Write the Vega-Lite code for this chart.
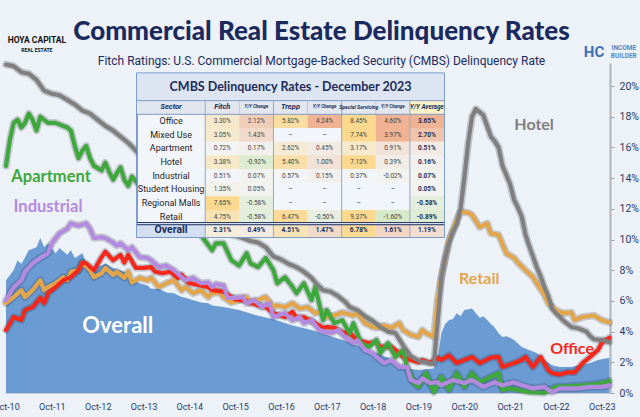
{
  "$schema": "https://vega.github.io/schema/vega-lite/v6.json",
  "width": 605,
  "height": 330,
  "autosize": {"type": "none"},
  "padding": {"left": 5, "top": 63, "right": 30, "bottom": 24},
  "background": "#edf2f8",
  "config": {"view": {"stroke": null}},
  "title": {
    "text": "Commercial Real Estate Delinquency Rates",
    "subtitle": "Fitch Ratings: U.S. Commercial Mortgage-Backed Security (CMBS) Delinquency Rate",
    "anchor": "middle",
    "frame": "group",
    "dx": 14,
    "offset": -31,
    "font": "Lato",
    "fontSize": 26,
    "fontWeight": 900,
    "color": "#1b2a5e",
    "subtitleFont": "Roboto",
    "subtitleFontSize": 12,
    "subtitleColor": "#1b2a5e",
    "subtitlePadding": 11
  },
  "datasets": {
    "cmbs": [
      {"s":"Retail","d":"2010-10","v":5.85},{"s":"Retail","d":"2010-12","v":6.25},{"s":"Retail","d":"2011-02","v":6.7},{"s":"Retail","d":"2011-03","v":6.25},{"s":"Retail","d":"2011-05","v":6.7},{"s":"Retail","d":"2011-07","v":7.35},{"s":"Retail","d":"2011-08","v":6.7},{"s":"Retail","d":"2011-09","v":6.9},{"s":"Retail","d":"2011-11","v":7.15},{"s":"Retail","d":"2012-01","v":7.55},{"s":"Retail","d":"2012-02","v":7.35},{"s":"Retail","d":"2012-03","v":7.9},{"s":"Retail","d":"2012-05","v":8.0},{"s":"Retail","d":"2012-06","v":8.5},{"s":"Retail","d":"2012-08","v":8.0},{"s":"Retail","d":"2012-09","v":7.55},{"s":"Retail","d":"2012-11","v":7.8},{"s":"Retail","d":"2012-12","v":8.15},{"s":"Retail","d":"2013-02","v":7.7},{"s":"Retail","d":"2013-03","v":7.9},{"s":"Retail","d":"2013-05","v":7.5},{"s":"Retail","d":"2013-06","v":7.9},{"s":"Retail","d":"2013-07","v":7.2},{"s":"Retail","d":"2013-09","v":7.5},{"s":"Retail","d":"2013-11","v":7.35},{"s":"Retail","d":"2013-12","v":7.5},{"s":"Retail","d":"2014-02","v":6.9},{"s":"Retail","d":"2014-04","v":7.15},{"s":"Retail","d":"2014-06","v":7.35},{"s":"Retail","d":"2014-08","v":6.7},{"s":"Retail","d":"2014-09","v":6.9},{"s":"Retail","d":"2014-11","v":6.5},{"s":"Retail","d":"2015-01","v":6.7},{"s":"Retail","d":"2015-03","v":6.25},{"s":"Retail","d":"2015-04","v":6.5},{"s":"Retail","d":"2015-06","v":6.55},{"s":"Retail","d":"2015-07","v":6.25},{"s":"Retail","d":"2015-09","v":5.9},{"s":"Retail","d":"2015-11","v":6.05},{"s":"Retail","d":"2016-01","v":6.25},{"s":"Retail","d":"2016-02","v":5.85},{"s":"Retail","d":"2016-04","v":6.05},{"s":"Retail","d":"2016-06","v":6.25},{"s":"Retail","d":"2016-08","v":5.6},{"s":"Retail","d":"2016-09","v":5.7},{"s":"Retail","d":"2016-11","v":5.6},{"s":"Retail","d":"2017-01","v":5.85},{"s":"Retail","d":"2017-03","v":5.5},{"s":"Retail","d":"2017-05","v":5.6},{"s":"Retail","d":"2017-07","v":5.2},{"s":"Retail","d":"2017-09","v":5.3},{"s":"Retail","d":"2017-10","v":4.95},{"s":"Retail","d":"2017-12","v":5.05},{"s":"Retail","d":"2018-02","v":5.25},{"s":"Retail","d":"2018-05","v":5.05},{"s":"Retail","d":"2018-06","v":5.2},{"s":"Retail","d":"2018-08","v":4.55},{"s":"Retail","d":"2018-10","v":4.3},{"s":"Retail","d":"2018-11","v":4.25},{"s":"Retail","d":"2019-01","v":4.4},{"s":"Retail","d":"2019-03","v":4.25},{"s":"Retail","d":"2019-05","v":4.55},{"s":"Retail","d":"2019-06","v":4.1},{"s":"Retail","d":"2019-08","v":3.8},{"s":"Retail","d":"2019-10","v":3.65},{"s":"Retail","d":"2019-11","v":4.1},{"s":"Retail","d":"2019-12","v":3.9},{"s":"Retail","d":"2020-02","v":3.65},{"s":"Retail","d":"2020-03","v":6.05},{"s":"Retail","d":"2020-04","v":7.55},{"s":"Retail","d":"2020-06","v":9.95},{"s":"Retail","d":"2020-08","v":11.25},{"s":"Retail","d":"2020-09","v":11.8},{"s":"Retail","d":"2020-11","v":11.75},{"s":"Retail","d":"2020-12","v":11.6},{"s":"Retail","d":"2021-02","v":10.8},{"s":"Retail","d":"2021-04","v":11.05},{"s":"Retail","d":"2021-05","v":10.4},{"s":"Retail","d":"2021-07","v":10.3},{"s":"Retail","d":"2021-09","v":9.1},{"s":"Retail","d":"2021-11","v":8.8},{"s":"Retail","d":"2021-12","v":8.5},{"s":"Retail","d":"2022-02","v":8.0},{"s":"Retail","d":"2022-04","v":7.55},{"s":"Retail","d":"2022-05","v":7.15},{"s":"Retail","d":"2022-07","v":6.4},{"s":"Retail","d":"2022-08","v":5.85},{"s":"Retail","d":"2022-10","v":5.4},{"s":"Retail","d":"2022-12","v":5.2},{"s":"Retail","d":"2023-02","v":5.25},{"s":"Retail","d":"2023-03","v":4.75},{"s":"Retail","d":"2023-05","v":4.95},{"s":"Retail","d":"2023-08","v":5.05},{"s":"Retail","d":"2023-10","v":4.75},{"s":"Retail","d":"2023-12","v":4.6},
      {"s":"Office","d":"2010-10","v":4.1},{"s":"Office","d":"2010-12","v":4.95},{"s":"Office","d":"2011-02","v":4.75},{"s":"Office","d":"2011-03","v":5.4},{"s":"Office","d":"2011-05","v":5.6},{"s":"Office","d":"2011-07","v":6.2},{"s":"Office","d":"2011-08","v":5.85},{"s":"Office","d":"2011-09","v":6.5},{"s":"Office","d":"2011-11","v":6.9},{"s":"Office","d":"2012-01","v":7.35},{"s":"Office","d":"2012-03","v":7.55},{"s":"Office","d":"2012-05","v":8.0},{"s":"Office","d":"2012-06","v":8.5},{"s":"Office","d":"2012-07","v":8.45},{"s":"Office","d":"2012-09","v":8.0},{"s":"Office","d":"2012-11","v":8.85},{"s":"Office","d":"2012-12","v":9.2},{"s":"Office","d":"2013-02","v":8.65},{"s":"Office","d":"2013-04","v":9.0},{"s":"Office","d":"2013-05","v":8.5},{"s":"Office","d":"2013-06","v":9.0},{"s":"Office","d":"2013-08","v":8.15},{"s":"Office","d":"2013-10","v":8.15},{"s":"Office","d":"2013-12","v":8.2},{"s":"Office","d":"2014-01","v":7.9},{"s":"Office","d":"2014-03","v":7.8},{"s":"Office","d":"2014-05","v":7.9},{"s":"Office","d":"2014-07","v":7.5},{"s":"Office","d":"2014-08","v":7.7},{"s":"Office","d":"2014-10","v":7.15},{"s":"Office","d":"2015-01","v":7.0},{"s":"Office","d":"2015-03","v":6.9},{"s":"Office","d":"2015-04","v":6.7},{"s":"Office","d":"2015-07","v":6.6},{"s":"Office","d":"2015-10","v":6.1},{"s":"Office","d":"2016-01","v":6.0},{"s":"Office","d":"2016-04","v":5.7},{"s":"Office","d":"2016-06","v":5.6},{"s":"Office","d":"2016-08","v":5.2},{"s":"Office","d":"2016-11","v":4.95},{"s":"Office","d":"2017-01","v":5.3},{"s":"Office","d":"2017-02","v":4.9},{"s":"Office","d":"2017-04","v":4.95},{"s":"Office","d":"2017-07","v":4.55},{"s":"Office","d":"2017-09","v":4.25},{"s":"Office","d":"2017-10","v":4.3},{"s":"Office","d":"2017-12","v":4.25},{"s":"Office","d":"2018-02","v":3.95},{"s":"Office","d":"2018-04","v":3.9},{"s":"Office","d":"2018-06","v":3.45},{"s":"Office","d":"2018-09","v":3.25},{"s":"Office","d":"2018-11","v":3.3},{"s":"Office","d":"2018-12","v":3.0},{"s":"Office","d":"2019-03","v":3.0},{"s":"Office","d":"2019-05","v":2.6},{"s":"Office","d":"2019-06","v":2.35},{"s":"Office","d":"2019-08","v":2.15},{"s":"Office","d":"2019-10","v":2.0},{"s":"Office","d":"2019-11","v":2.15},{"s":"Office","d":"2020-01","v":1.95},{"s":"Office","d":"2020-03","v":2.3},{"s":"Office","d":"2020-04","v":2.15},{"s":"Office","d":"2020-06","v":2.45},{"s":"Office","d":"2020-08","v":1.95},{"s":"Office","d":"2020-10","v":2.15},{"s":"Office","d":"2020-12","v":2.35},{"s":"Office","d":"2021-02","v":1.95},{"s":"Office","d":"2021-05","v":2.3},{"s":"Office","d":"2021-07","v":2.35},{"s":"Office","d":"2021-08","v":1.7},{"s":"Office","d":"2021-11","v":1.95},{"s":"Office","d":"2022-01","v":2.15},{"s":"Office","d":"2022-02","v":2.35},{"s":"Office","d":"2022-04","v":1.7},{"s":"Office","d":"2022-06","v":2.35},{"s":"Office","d":"2022-08","v":1.5},{"s":"Office","d":"2022-09","v":1.3},{"s":"Office","d":"2022-11","v":1.2},{"s":"Office","d":"2023-01","v":1.35},{"s":"Office","d":"2023-03","v":1.35},{"s":"Office","d":"2023-05","v":1.95},{"s":"Office","d":"2023-07","v":2.35},{"s":"Office","d":"2023-09","v":2.8},{"s":"Office","d":"2023-10","v":3.25},{"s":"Office","d":"2023-11","v":3.45},{"s":"Office","d":"2023-12","v":3.6},
      {"s":"Apartment","d":"2010-10","v":14.8},{"s":"Apartment","d":"2010-11","v":16.5},{"s":"Apartment","d":"2010-12","v":17.6},{"s":"Apartment","d":"2011-01","v":17.8},{"s":"Apartment","d":"2011-02","v":17.3},{"s":"Apartment","d":"2011-03","v":17.6},{"s":"Apartment","d":"2011-04","v":18.2},{"s":"Apartment","d":"2011-05","v":17.8},{"s":"Apartment","d":"2011-06","v":17.1},{"s":"Apartment","d":"2011-07","v":18.0},{"s":"Apartment","d":"2011-08","v":17.8},{"s":"Apartment","d":"2011-09","v":17.6},{"s":"Apartment","d":"2011-11","v":17.6},{"s":"Apartment","d":"2012-01","v":17.4},{"s":"Apartment","d":"2012-02","v":17.3},{"s":"Apartment","d":"2012-03","v":17.1},{"s":"Apartment","d":"2012-04","v":16.1},{"s":"Apartment","d":"2012-05","v":15.3},{"s":"Apartment","d":"2012-06","v":15.8},{"s":"Apartment","d":"2012-07","v":16.1},{"s":"Apartment","d":"2012-08","v":15.3},{"s":"Apartment","d":"2012-09","v":14.8},{"s":"Apartment","d":"2012-11","v":14.5},{"s":"Apartment","d":"2012-12","v":15.0},{"s":"Apartment","d":"2013-01","v":14.4},{"s":"Apartment","d":"2013-02","v":13.9},{"s":"Apartment","d":"2013-03","v":14.3},{"s":"Apartment","d":"2013-04","v":14.7},{"s":"Apartment","d":"2013-05","v":13.9},{"s":"Apartment","d":"2013-06","v":13.5},{"s":"Apartment","d":"2013-07","v":14.1},{"s":"Apartment","d":"2013-10","v":13.2},{"s":"Apartment","d":"2014-02","v":12.5},{"s":"Apartment","d":"2014-06","v":11.7},{"s":"Apartment","d":"2014-10","v":10.8},{"s":"Apartment","d":"2015-01","v":10.3},{"s":"Apartment","d":"2015-02","v":9.95},{"s":"Apartment","d":"2015-04","v":9.3},{"s":"Apartment","d":"2015-05","v":9.75},{"s":"Apartment","d":"2015-07","v":9.75},{"s":"Apartment","d":"2015-09","v":8.65},{"s":"Apartment","d":"2015-11","v":8.3},{"s":"Apartment","d":"2016-01","v":9.1},{"s":"Apartment","d":"2016-02","v":8.45},{"s":"Apartment","d":"2016-04","v":8.2},{"s":"Apartment","d":"2016-06","v":8.8},{"s":"Apartment","d":"2016-08","v":8.0},{"s":"Apartment","d":"2016-09","v":7.15},{"s":"Apartment","d":"2016-11","v":7.55},{"s":"Apartment","d":"2017-01","v":6.9},{"s":"Apartment","d":"2017-02","v":6.5},{"s":"Apartment","d":"2017-04","v":7.15},{"s":"Apartment","d":"2017-06","v":6.05},{"s":"Apartment","d":"2017-07","v":6.9},{"s":"Apartment","d":"2017-09","v":4.75},{"s":"Apartment","d":"2017-10","v":5.4},{"s":"Apartment","d":"2017-12","v":4.55},{"s":"Apartment","d":"2018-02","v":4.75},{"s":"Apartment","d":"2018-04","v":3.9},{"s":"Apartment","d":"2018-05","v":4.55},{"s":"Apartment","d":"2018-07","v":3.25},{"s":"Apartment","d":"2018-09","v":3.0},{"s":"Apartment","d":"2018-11","v":3.45},{"s":"Apartment","d":"2018-12","v":2.6},{"s":"Apartment","d":"2019-02","v":3.25},{"s":"Apartment","d":"2019-04","v":2.35},{"s":"Apartment","d":"2019-06","v":2.8},{"s":"Apartment","d":"2019-07","v":1.7},{"s":"Apartment","d":"2019-09","v":0.6},{"s":"Apartment","d":"2019-10","v":0.4},{"s":"Apartment","d":"2019-12","v":1.3},{"s":"Apartment","d":"2020-02","v":0.05},{"s":"Apartment","d":"2020-04","v":1.05},{"s":"Apartment","d":"2020-06","v":0.2},{"s":"Apartment","d":"2020-08","v":1.3},{"s":"Apartment","d":"2020-10","v":0.4},{"s":"Apartment","d":"2020-12","v":1.3},{"s":"Apartment","d":"2021-02","v":0.7},{"s":"Apartment","d":"2021-05","v":1.05},{"s":"Apartment","d":"2021-07","v":1.3},{"s":"Apartment","d":"2021-08","v":0.2},{"s":"Apartment","d":"2021-10","v":0.3},{"s":"Apartment","d":"2021-12","v":0.2},{"s":"Apartment","d":"2022-03","v":0.05},{"s":"Apartment","d":"2022-07","v":0.0},{"s":"Apartment","d":"2022-10","v":0.4},{"s":"Apartment","d":"2023-02","v":0.45},{"s":"Apartment","d":"2023-05","v":0.5},{"s":"Apartment","d":"2023-09","v":0.6},{"s":"Apartment","d":"2023-11","v":0.7},{"s":"Apartment","d":"2023-12","v":0.8},
      {"s":"Industrial","d":"2010-10","v":6.05},{"s":"Industrial","d":"2010-12","v":6.9},{"s":"Industrial","d":"2011-02","v":7.35},{"s":"Industrial","d":"2011-03","v":7.9},{"s":"Industrial","d":"2011-05","v":8.45},{"s":"Industrial","d":"2011-07","v":8.8},{"s":"Industrial","d":"2011-09","v":9.1},{"s":"Industrial","d":"2011-10","v":9.75},{"s":"Industrial","d":"2011-12","v":10.4},{"s":"Industrial","d":"2012-02","v":10.7},{"s":"Industrial","d":"2012-03","v":11.05},{"s":"Industrial","d":"2012-05","v":10.9},{"s":"Industrial","d":"2012-07","v":11.05},{"s":"Industrial","d":"2012-08","v":10.7},{"s":"Industrial","d":"2012-09","v":10.1},{"s":"Industrial","d":"2012-11","v":10.15},{"s":"Industrial","d":"2012-12","v":10.1},{"s":"Industrial","d":"2013-02","v":9.8},{"s":"Industrial","d":"2013-03","v":9.6},{"s":"Industrial","d":"2013-04","v":9.75},{"s":"Industrial","d":"2013-06","v":9.3},{"s":"Industrial","d":"2013-07","v":9.5},{"s":"Industrial","d":"2013-09","v":8.85},{"s":"Industrial","d":"2013-11","v":8.8},{"s":"Industrial","d":"2013-12","v":8.65},{"s":"Industrial","d":"2014-02","v":8.2},{"s":"Industrial","d":"2014-04","v":8.3},{"s":"Industrial","d":"2014-06","v":8.0},{"s":"Industrial","d":"2014-08","v":7.55},{"s":"Industrial","d":"2014-09","v":7.35},{"s":"Industrial","d":"2014-11","v":7.5},{"s":"Industrial","d":"2015-01","v":7.15},{"s":"Industrial","d":"2015-03","v":7.2},{"s":"Industrial","d":"2015-04","v":6.9},{"s":"Industrial","d":"2015-05","v":7.1},{"s":"Industrial","d":"2015-07","v":7.0},{"s":"Industrial","d":"2015-08","v":6.2},{"s":"Industrial","d":"2015-10","v":6.2},{"s":"Industrial","d":"2015-12","v":6.25},{"s":"Industrial","d":"2016-01","v":5.85},{"s":"Industrial","d":"2016-03","v":6.05},{"s":"Industrial","d":"2016-05","v":5.6},{"s":"Industrial","d":"2016-07","v":5.85},{"s":"Industrial","d":"2016-08","v":4.95},{"s":"Industrial","d":"2016-11","v":5.2},{"s":"Industrial","d":"2017-01","v":4.75},{"s":"Industrial","d":"2017-03","v":4.95},{"s":"Industrial","d":"2017-04","v":4.55},{"s":"Industrial","d":"2017-06","v":4.75},{"s":"Industrial","d":"2017-08","v":4.1},{"s":"Industrial","d":"2017-10","v":3.95},{"s":"Industrial","d":"2017-11","v":3.9},{"s":"Industrial","d":"2018-01","v":4.1},{"s":"Industrial","d":"2018-03","v":3.6},{"s":"Industrial","d":"2018-05","v":3.25},{"s":"Industrial","d":"2018-06","v":3.45},{"s":"Industrial","d":"2018-08","v":2.8},{"s":"Industrial","d":"2018-10","v":2.6},{"s":"Industrial","d":"2018-11","v":2.35},{"s":"Industrial","d":"2019-01","v":1.95},{"s":"Industrial","d":"2019-03","v":2.15},{"s":"Industrial","d":"2019-05","v":1.7},{"s":"Industrial","d":"2019-07","v":1.7},{"s":"Industrial","d":"2019-08","v":0.85},{"s":"Industrial","d":"2019-10","v":0.65},{"s":"Industrial","d":"2019-11","v":0.95},{"s":"Industrial","d":"2020-01","v":0.65},{"s":"Industrial","d":"2020-03","v":0.7},{"s":"Industrial","d":"2020-04","v":0.5},{"s":"Industrial","d":"2020-07","v":0.85},{"s":"Industrial","d":"2020-10","v":0.65},{"s":"Industrial","d":"2020-12","v":0.85},{"s":"Industrial","d":"2021-03","v":0.4},{"s":"Industrial","d":"2021-06","v":0.7},{"s":"Industrial","d":"2021-08","v":0.5},{"s":"Industrial","d":"2021-11","v":0.7},{"s":"Industrial","d":"2022-01","v":0.5},{"s":"Industrial","d":"2022-04","v":0.3},{"s":"Industrial","d":"2022-07","v":0.4},{"s":"Industrial","d":"2022-09","v":0.05},{"s":"Industrial","d":"2022-11","v":0.3},{"s":"Industrial","d":"2023-04","v":0.3},{"s":"Industrial","d":"2023-07","v":0.4},{"s":"Industrial","d":"2023-10","v":0.4},{"s":"Industrial","d":"2023-12","v":0.5},
      {"s":"Hotel","d":"2010-10","v":21.4},{"s":"Hotel","d":"2010-12","v":21.3},{"s":"Hotel","d":"2011-02","v":20.9},{"s":"Hotel","d":"2011-04","v":20.8},{"s":"Hotel","d":"2011-06","v":20.4},{"s":"Hotel","d":"2011-08","v":19.7},{"s":"Hotel","d":"2011-10","v":19.5},{"s":"Hotel","d":"2011-12","v":19.4},{"s":"Hotel","d":"2012-02","v":19.1},{"s":"Hotel","d":"2012-04","v":18.8},{"s":"Hotel","d":"2012-06","v":18.4},{"s":"Hotel","d":"2012-08","v":18.2},{"s":"Hotel","d":"2012-10","v":17.8},{"s":"Hotel","d":"2012-12","v":17.4},{"s":"Hotel","d":"2013-02","v":17.1},{"s":"Hotel","d":"2013-04","v":16.7},{"s":"Hotel","d":"2013-06","v":16.3},{"s":"Hotel","d":"2013-08","v":15.8},{"s":"Hotel","d":"2013-12","v":14.6},{"s":"Hotel","d":"2014-04","v":13.4},{"s":"Hotel","d":"2014-08","v":12.3},{"s":"Hotel","d":"2014-12","v":11.4},{"s":"Hotel","d":"2015-04","v":10.9},{"s":"Hotel","d":"2015-08","v":10.4},{"s":"Hotel","d":"2015-12","v":10.1},{"s":"Hotel","d":"2016-02","v":9.9},{"s":"Hotel","d":"2016-04","v":9.8},{"s":"Hotel","d":"2016-06","v":9.5},{"s":"Hotel","d":"2016-08","v":8.9},{"s":"Hotel","d":"2016-10","v":8.7},{"s":"Hotel","d":"2016-12","v":8.4},{"s":"Hotel","d":"2017-02","v":8.2},{"s":"Hotel","d":"2017-04","v":7.9},{"s":"Hotel","d":"2017-06","v":7.5},{"s":"Hotel","d":"2017-07","v":7.2},{"s":"Hotel","d":"2017-09","v":6.7},{"s":"Hotel","d":"2017-11","v":6.6},{"s":"Hotel","d":"2018-01","v":6.3},{"s":"Hotel","d":"2018-03","v":5.9},{"s":"Hotel","d":"2018-04","v":5.6},{"s":"Hotel","d":"2018-06","v":5.4},{"s":"Hotel","d":"2018-08","v":5.0},{"s":"Hotel","d":"2018-10","v":4.7},{"s":"Hotel","d":"2018-12","v":4.3},{"s":"Hotel","d":"2019-02","v":4.0},{"s":"Hotel","d":"2019-04","v":3.9},{"s":"Hotel","d":"2019-06","v":3.1},{"s":"Hotel","d":"2019-08","v":2.4},{"s":"Hotel","d":"2019-10","v":2.1},{"s":"Hotel","d":"2019-12","v":2.0},{"s":"Hotel","d":"2020-02","v":1.9},{"s":"Hotel","d":"2020-03","v":4.5},{"s":"Hotel","d":"2020-04","v":7.5},{"s":"Hotel","d":"2020-05","v":8.8},{"s":"Hotel","d":"2020-06","v":9.8},{"s":"Hotel","d":"2020-07","v":10.5},{"s":"Hotel","d":"2020-08","v":11.0},{"s":"Hotel","d":"2020-09","v":12.0},{"s":"Hotel","d":"2020-10","v":14.0},{"s":"Hotel","d":"2020-11","v":16.3},{"s":"Hotel","d":"2020-12","v":18.0},{"s":"Hotel","d":"2021-01","v":18.5},{"s":"Hotel","d":"2021-02","v":18.3},{"s":"Hotel","d":"2021-03","v":18.1},{"s":"Hotel","d":"2021-04","v":17.4},{"s":"Hotel","d":"2021-05","v":16.7},{"s":"Hotel","d":"2021-06","v":16.4},{"s":"Hotel","d":"2021-07","v":16.0},{"s":"Hotel","d":"2021-08","v":14.8},{"s":"Hotel","d":"2021-09","v":14.2},{"s":"Hotel","d":"2021-10","v":13.6},{"s":"Hotel","d":"2021-11","v":12.6},{"s":"Hotel","d":"2021-12","v":12.1},{"s":"Hotel","d":"2022-01","v":11.5},{"s":"Hotel","d":"2022-02","v":10.3},{"s":"Hotel","d":"2022-03","v":9.6},{"s":"Hotel","d":"2022-04","v":8.9},{"s":"Hotel","d":"2022-05","v":8.2},{"s":"Hotel","d":"2022-06","v":7.6},{"s":"Hotel","d":"2022-07","v":6.9},{"s":"Hotel","d":"2022-08","v":6.3},{"s":"Hotel","d":"2022-09","v":5.5},{"s":"Hotel","d":"2022-10","v":5.2},{"s":"Hotel","d":"2022-11","v":4.95},{"s":"Hotel","d":"2022-12","v":4.7},{"s":"Hotel","d":"2023-01","v":4.5},{"s":"Hotel","d":"2023-02","v":4.3},{"s":"Hotel","d":"2023-04","v":4.2},{"s":"Hotel","d":"2023-06","v":4.0},{"s":"Hotel","d":"2023-07","v":3.7},{"s":"Hotel","d":"2023-08","v":3.5},{"s":"Hotel","d":"2023-10","v":3.45},{"s":"Hotel","d":"2023-11","v":3.4},{"s":"Hotel","d":"2023-12","v":3.3},
      {"s":"Overall","d":"2010-10","v":7.35},{"s":"Overall","d":"2010-12","v":8.0},{"s":"Overall","d":"2011-01","v":8.65},{"s":"Overall","d":"2011-02","v":8.4},{"s":"Overall","d":"2011-04","v":9.3},{"s":"Overall","d":"2011-06","v":9.5},{"s":"Overall","d":"2011-07","v":10.1},{"s":"Overall","d":"2011-08","v":9.5},{"s":"Overall","d":"2011-09","v":9.75},{"s":"Overall","d":"2011-11","v":9.1},{"s":"Overall","d":"2011-12","v":9.45},{"s":"Overall","d":"2012-02","v":9.0},{"s":"Overall","d":"2012-03","v":9.3},{"s":"Overall","d":"2012-04","v":8.8},{"s":"Overall","d":"2012-06","v":9.1},{"s":"Overall","d":"2012-07","v":8.5},{"s":"Overall","d":"2012-09","v":8.2},{"s":"Overall","d":"2012-11","v":8.3},{"s":"Overall","d":"2012-12","v":8.45},{"s":"Overall","d":"2013-02","v":8.15},{"s":"Overall","d":"2013-04","v":8.0},{"s":"Overall","d":"2013-06","v":7.8},{"s":"Overall","d":"2013-07","v":7.35},{"s":"Overall","d":"2013-09","v":7.15},{"s":"Overall","d":"2013-11","v":7.0},{"s":"Overall","d":"2013-12","v":6.8},{"s":"Overall","d":"2014-02","v":6.8},{"s":"Overall","d":"2014-04","v":6.55},{"s":"Overall","d":"2014-06","v":6.5},{"s":"Overall","d":"2014-08","v":6.25},{"s":"Overall","d":"2014-09","v":6.2},{"s":"Overall","d":"2014-11","v":6.05},{"s":"Overall","d":"2015-01","v":5.9},{"s":"Overall","d":"2015-03","v":5.85},{"s":"Overall","d":"2015-04","v":5.7},{"s":"Overall","d":"2015-07","v":5.6},{"s":"Overall","d":"2015-11","v":5.4},{"s":"Overall","d":"2016-03","v":5.1},{"s":"Overall","d":"2016-08","v":4.8},{"s":"Overall","d":"2017-01","v":4.4},{"s":"Overall","d":"2017-06","v":4.1},{"s":"Overall","d":"2017-11","v":3.7},{"s":"Overall","d":"2018-04","v":3.3},{"s":"Overall","d":"2018-09","v":2.8},{"s":"Overall","d":"2019-02","v":2.3},{"s":"Overall","d":"2019-07","v":1.6},{"s":"Overall","d":"2019-10","v":1.5},{"s":"Overall","d":"2020-02","v":1.6},{"s":"Overall","d":"2020-03","v":2.2},{"s":"Overall","d":"2020-04","v":3.9},{"s":"Overall","d":"2020-05","v":4.5},{"s":"Overall","d":"2020-06","v":4.75},{"s":"Overall","d":"2020-07","v":4.8},{"s":"Overall","d":"2020-08","v":5.2},{"s":"Overall","d":"2020-09","v":5.0},{"s":"Overall","d":"2020-10","v":5.4},{"s":"Overall","d":"2020-11","v":5.45},{"s":"Overall","d":"2020-12","v":5.5},{"s":"Overall","d":"2021-01","v":5.2},{"s":"Overall","d":"2021-02","v":4.9},{"s":"Overall","d":"2021-03","v":5.0},{"s":"Overall","d":"2021-04","v":4.75},{"s":"Overall","d":"2021-05","v":4.5},{"s":"Overall","d":"2021-06","v":4.25},{"s":"Overall","d":"2021-07","v":3.9},{"s":"Overall","d":"2021-08","v":3.65},{"s":"Overall","d":"2021-09","v":3.7},{"s":"Overall","d":"2021-10","v":3.6},{"s":"Overall","d":"2021-11","v":3.45},{"s":"Overall","d":"2022-01","v":3.0},{"s":"Overall","d":"2022-03","v":2.8},{"s":"Overall","d":"2022-05","v":2.6},{"s":"Overall","d":"2022-07","v":2.15},{"s":"Overall","d":"2022-09","v":1.8},{"s":"Overall","d":"2022-11","v":1.7},{"s":"Overall","d":"2023-02","v":1.7},{"s":"Overall","d":"2023-04","v":1.8},{"s":"Overall","d":"2023-07","v":1.95},{"s":"Overall","d":"2023-09","v":2.15},{"s":"Overall","d":"2023-12","v":2.3}
    ],
    "cells": [
      {"r":"Office","c":"Fitch","t":"3.30%","n":3.30},{"r":"Office","c":"FitchYY","t":"2.12%","n":2.12},{"r":"Office","c":"Trepp","t":"5.82%","n":5.82},{"r":"Office","c":"TreppYY","t":"4.24%","n":4.24},{"r":"Office","c":"SS","t":"8.45%","n":8.45},{"r":"Office","c":"SSYY","t":"4.60%","n":4.60},{"r":"Office","c":"Avg","t":"3.65%","n":3.65},
      {"r":"Mixed Use","c":"Fitch","t":"3.05%","n":3.05},{"r":"Mixed Use","c":"FitchYY","t":"1.43%","n":1.43},{"r":"Mixed Use","c":"Trepp","t":"–","n":null},{"r":"Mixed Use","c":"TreppYY","t":"–","n":null},{"r":"Mixed Use","c":"SS","t":"7.74%","n":7.74},{"r":"Mixed Use","c":"SSYY","t":"3.97%","n":3.97},{"r":"Mixed Use","c":"Avg","t":"2.70%","n":2.70},
      {"r":"Apartment","c":"Fitch","t":"0.72%","n":0.72},{"r":"Apartment","c":"FitchYY","t":"0.17%","n":0.17},{"r":"Apartment","c":"Trepp","t":"2.62%","n":2.62},{"r":"Apartment","c":"TreppYY","t":"0.45%","n":0.45},{"r":"Apartment","c":"SS","t":"3.17%","n":3.17},{"r":"Apartment","c":"SSYY","t":"0.91%","n":0.91},{"r":"Apartment","c":"Avg","t":"0.51%","n":0.51},
      {"r":"Hotel","c":"Fitch","t":"3.38%","n":3.38},{"r":"Hotel","c":"FitchYY","t":"-0.92%","n":-0.92},{"r":"Hotel","c":"Trepp","t":"5.40%","n":5.40},{"r":"Hotel","c":"TreppYY","t":"1.00%","n":1.00},{"r":"Hotel","c":"SS","t":"7.13%","n":7.13},{"r":"Hotel","c":"SSYY","t":"0.39%","n":0.39},{"r":"Hotel","c":"Avg","t":"0.16%","n":0.16},
      {"r":"Industrial","c":"Fitch","t":"0.51%","n":0.51},{"r":"Industrial","c":"FitchYY","t":"0.07%","n":0.07},{"r":"Industrial","c":"Trepp","t":"0.57%","n":0.57},{"r":"Industrial","c":"TreppYY","t":"0.15%","n":0.15},{"r":"Industrial","c":"SS","t":"0.37%","n":0.37},{"r":"Industrial","c":"SSYY","t":"-0.02%","n":-0.02},{"r":"Industrial","c":"Avg","t":"0.07%","n":0.07},
      {"r":"Student Housing","c":"Fitch","t":"1.35%","n":1.35},{"r":"Student Housing","c":"FitchYY","t":"0.05%","n":0.05},{"r":"Student Housing","c":"Trepp","t":"–","n":null},{"r":"Student Housing","c":"TreppYY","t":"–","n":null},{"r":"Student Housing","c":"SS","t":"–","n":null},{"r":"Student Housing","c":"SSYY","t":"–","n":null},{"r":"Student Housing","c":"Avg","t":"0.05%","n":0.05},
      {"r":"Regional Malls","c":"Fitch","t":"7.65%","n":7.65},{"r":"Regional Malls","c":"FitchYY","t":"-0.58%","n":-0.58},{"r":"Regional Malls","c":"Trepp","t":"–","n":null},{"r":"Regional Malls","c":"TreppYY","t":"–","n":null},{"r":"Regional Malls","c":"SS","t":"–","n":null},{"r":"Regional Malls","c":"SSYY","t":"–","n":null},{"r":"Regional Malls","c":"Avg","t":"-0.58%","n":-0.58},
      {"r":"Retail","c":"Fitch","t":"4.75%","n":4.75},{"r":"Retail","c":"FitchYY","t":"-0.58%","n":-0.58},{"r":"Retail","c":"Trepp","t":"6.47%","n":6.47},{"r":"Retail","c":"TreppYY","t":"-0.50%","n":-0.50},{"r":"Retail","c":"SS","t":"9.37%","n":9.37},{"r":"Retail","c":"SSYY","t":"-1.60%","n":-1.60},{"r":"Retail","c":"Avg","t":"-0.89%","n":-0.89},
      {"r":"Overall","c":"Fitch","t":"2.31%","n":2.31},{"r":"Overall","c":"FitchYY","t":"0.49%","n":0.49},{"r":"Overall","c":"Trepp","t":"4.51%","n":4.51},{"r":"Overall","c":"TreppYY","t":"1.47%","n":1.47},{"r":"Overall","c":"SS","t":"6.78%","n":6.78},{"r":"Overall","c":"SSYY","t":"1.61%","n":1.61},{"r":"Overall","c":"Avg","t":"1.19%","n":1.19}
    ],
    "heads": [
      {"c":"Fitch","t":"Fitch"},{"c":"FitchYY","t":"Y/Y Change"},{"c":"Trepp","t":"Trepp"},{"c":"TreppYY","t":"Y/Y Change"},{"c":"SS","t":"Special Servicing"},{"c":"SSYY","t":"Y/Y Change"},{"c":"Avg","t":"Y/Y Average"}
    ],
    "sectors": [
      {"r":"Office"},{"r":"Mixed Use"},{"r":"Apartment"},{"r":"Hotel"},{"r":"Industrial"},{"r":"Student Housing"},{"r":"Regional Malls"},{"r":"Retail"},{"r":"Overall"}
    ]
  },
  "layer": [
    {
      "encoding": {
        "x": {
          "field": "d", "type": "temporal",
          "scale": {"domain": [{"year": 2010, "month": 9, "date": 23}, {"year": 2023, "month": 12, "date": 6}]},
          "axis": {
            "title": null, "orient": "bottom", "grid": false, "ticks": false,
            "values": [{"year":2010,"month":10,"date":1},{"year":2011,"month":10,"date":1},{"year":2012,"month":10,"date":1},{"year":2013,"month":10,"date":1},{"year":2014,"month":10,"date":1},{"year":2015,"month":10,"date":1},{"year":2016,"month":10,"date":1},{"year":2017,"month":10,"date":1},{"year":2018,"month":10,"date":1},{"year":2019,"month":10,"date":1},{"year":2020,"month":10,"date":1},{"year":2021,"month":10,"date":1},{"year":2022,"month":10,"date":1},{"year":2023,"month":10,"date":1}],
            "format": "%b-%y", "labelOverlap": false,
            "labelFont": "Roboto", "labelFontSize": 9, "labelColor": "#2b3a67", "labelPadding": 9,
            "domainColor": "#c5cad3", "domainWidth": 1
          }
        },
        "y": {
          "field": "v", "type": "quantitative",
          "scale": {"domain": [0, 21.5], "nice": false},
          "axis": {
            "title": null, "orient": "right", "grid": false,
            "values": [0, 2, 4, 6, 8, 10, 12, 14, 16, 18, 20],
            "labelExpr": "datum.value + '%'",
            "labelFont": "Roboto", "labelFontSize": 10.5, "labelColor": "#2b3a67", "labelPadding": 5,
            "domainColor": "#aeb3bb", "domainWidth": 2, "tickColor": "#9aa0aa", "tickSize": 4
          }
        }
      },
      "layer": [
        {
          "data": {"name": "cmbs"},
          "transform": [{"filter": "datum.s === 'Overall'"}],
          "mark": {"type": "area", "color": "#6a9bd3"},
          "encoding": {}
        },
        {
          "data": {"name": "cmbs"},
          "transform": [{"filter": "datum.s !== 'Overall'"}],
          "mark": {"type": "line", "stroke": "#1e2433", "strokeOpacity": 0.2, "strokeWidth": 7.5, "strokeJoin": "round", "strokeCap": "round"},
          "encoding": {"detail": {"field": "s", "type": "nominal"}}
        },
        {
          "data": {"name": "cmbs"},
          "transform": [{"filter": "datum.s !== 'Overall'"}],
          "mark": {"type": "line", "strokeWidth": 4.2, "strokeJoin": "round", "strokeCap": "round"},
          "encoding": {
            "stroke": {
              "field": "s", "type": "nominal", "legend": null,
              "scale": {"domain": ["Hotel", "Retail", "Office", "Apartment", "Industrial"], "range": ["#7f7f7f", "#e3a54a", "#f5281c", "#3fa83c", "#b48ae0"]}
            }
          }
        },
        {
          "data": {"values": [{"label": "Apartment", "d": "2011-09-25", "v": 14.05}]},
          "mark": {"type": "text", "font": "Lato", "fontWeight": "bold", "fontSize": 16.5, "color": "#3fa83c"},
          "encoding": {"text": {"field": "label"}}
        },
        {
          "data": {"values": [{"label": "Industrial", "d": "2011-09-01", "v": 12.1}]},
          "mark": {"type": "text", "font": "Lato", "fontWeight": "bold", "fontSize": 16.5, "color": "#b48ae0"},
          "encoding": {"text": {"field": "label"}}
        },
        {
          "data": {"values": [{"label": "Overall", "d": "2013-03-10", "v": 4.36}]},
          "mark": {"type": "text", "font": "Lato", "fontWeight": "bold", "fontSize": 22, "color": "#ffffff"},
          "encoding": {"text": {"field": "label"}}
        },
        {
          "data": {"values": [{"label": "Hotel", "d": "2022-04-10", "v": 17.44}]},
          "mark": {"type": "text", "font": "Lato", "fontWeight": "bold", "fontSize": 16, "color": "#7f7f7f"},
          "encoding": {"text": {"field": "label"}}
        },
        {
          "data": {"values": [{"label": "Retail", "d": "2021-01-28", "v": 7.42}]},
          "mark": {"type": "text", "font": "Lato", "fontWeight": "bold", "fontSize": 16, "color": "#e3a54a"},
          "encoding": {"text": {"field": "label"}}
        },
        {
          "data": {"values": [{"label": "Office", "d": "2023-02-07", "v": 2.86}]},
          "mark": {"type": "text", "font": "Lato", "fontWeight": "bold", "fontSize": 16, "color": "#f5281c"},
          "encoding": {"text": {"field": "label"}}
        },
        {
          "data": {"values": [{"label": "HOYA CAPITAL", "d": "2011-06-04", "v": 23.0}]},
          "mark": {"type": "text", "font": "Roboto", "fontWeight": "bold", "fontSize": 8.5, "color": "#111111"},
          "encoding": {"text": {"field": "label"}}
        },
        {
          "data": {"values": [{"label": "REAL ESTATE", "d": "2011-06-04", "v": 22.35}]},
          "mark": {"type": "text", "font": "Roboto", "fontWeight": "bold", "fontSize": 5, "color": "#111111"},
          "encoding": {"text": {"field": "label"}}
        },
        {
          "data": {"values": [{"label": "HC", "d": "2023-08-01", "v": 22.2}]},
          "mark": {"type": "text", "font": "Roboto", "fontWeight": "bold", "fontSize": 15, "color": "#3f6fb5"},
          "encoding": {"text": {"field": "label"}}
        },
        {
          "data": {"values": [{"label": "INCOME", "d": "2024-03-25", "v": 22.5}]},
          "mark": {"type": "text", "font": "Roboto", "fontWeight": "bold", "fontSize": 6.5, "color": "#5a86c4"},
          "encoding": {"text": {"field": "label"}}
        },
        {
          "data": {"values": [{"label": "BUILDER", "d": "2024-03-25", "v": 21.95}]},
          "mark": {"type": "text", "font": "Roboto", "fontWeight": "bold", "fontSize": 6.5, "color": "#5a86c4"},
          "encoding": {"text": {"field": "label"}}
        }
      ]
    },
    {
      "layer": [
        {
          "data": {"values": [{}]},
          "mark": {"type": "rect", "fill": "#f2f5fa", "stroke": "#5a84bf", "strokeWidth": 1.5},
          "encoding": {
            "x": {"datum": "S1", "type": "nominal", "bandPosition": 0, "axis": null,
              "scale": {"type": "band", "domain": ["S1", "S2", "Fitch", "FitchYY", "Trepp", "TreppYY", "SS", "SSYY", "Avg"], "paddingInner": 0, "paddingOuter": 0, "range": [132, 439], "round": false}},
            "x2": {"datum": "Avg", "bandPosition": 1},
            "y": {"datum": "T1", "type": "nominal", "bandPosition": 0, "axis": null,
              "scale": {"type": "band", "domain": ["T1", "T2", "Header", "Office", "Mixed Use", "Apartment", "Hotel", "Industrial", "Student Housing", "Regional Malls", "Retail", "Overall"], "paddingInner": 0, "paddingOuter": 0, "range": [10.3, 174.3], "round": false}},
            "y2": {"datum": "Overall", "bandPosition": 1}
          }
        },
        {
          "data": {"values": [{}]},
          "mark": {"type": "rect", "fill": "#dce5f1"},
          "encoding": {
            "x": {"datum": "S1", "type": "nominal", "bandPosition": 0, "axis": null},
            "x2": {"datum": "Avg", "bandPosition": 1},
            "y": {"datum": "T1", "type": "nominal", "bandPosition": 0, "axis": null},
            "y2": {"datum": "T2", "bandPosition": 1}
          }
        },
        {
          "data": {"values": [{}]},
          "mark": {"type": "rect", "fill": "#e1e6ef"},
          "encoding": {
            "x": {"datum": "S1", "type": "nominal", "bandPosition": 0, "axis": null},
            "x2": {"datum": "Avg", "bandPosition": 1},
            "y": {"datum": "Header", "type": "nominal", "bandPosition": 0, "axis": null},
            "y2": {"datum": "Header", "bandPosition": 1}
          }
        },
        {
          "data": {"values": [{}]},
          "mark": {"type": "rect", "fill": "#fbf1c6"},
          "encoding": {
            "x": {"datum": "Avg", "type": "nominal", "axis": null},
            "y": {"datum": "Header", "type": "nominal", "axis": null}
          }
        },
        {
          "data": {"values": [{}]},
          "mark": {"type": "rect", "fill": "#d3def0"},
          "encoding": {
            "x": {"datum": "S1", "type": "nominal", "bandPosition": 0, "axis": null},
            "x2": {"datum": "S2", "bandPosition": 1},
            "y": {"datum": "Overall", "type": "nominal", "bandPosition": 0, "axis": null},
            "y2": {"datum": "Overall", "bandPosition": 1}
          }
        },
        {
          "data": {"name": "cells"},
          "transform": [{"filter": {"field": "c", "oneOf": ["Fitch", "Trepp", "SS"]}}, {"filter": "isValid(datum.n)"}],
          "mark": {"type": "rect"},
          "encoding": {
            "x": {"field": "c", "type": "nominal", "axis": null},
            "y": {"field": "r", "type": "nominal", "axis": null},
            "fill": {"field": "n", "type": "quantitative", "legend": null,
              "scale": {"domain": [0.3, 7], "range": ["#f2f5fa", "#fcd98e"], "clamp": true, "interpolate": "rgb"}}
          }
        },
        {
          "data": {"name": "cells"},
          "transform": [{"filter": {"field": "c", "oneOf": ["FitchYY", "TreppYY", "SSYY", "Avg"]}}, {"filter": "isValid(datum.n)"}],
          "mark": {"type": "rect"},
          "encoding": {
            "x": {"field": "c", "type": "nominal", "axis": null},
            "y": {"field": "r", "type": "nominal", "axis": null},
            "fill": {"field": "n", "type": "quantitative", "legend": null,
              "scale": {"domain": [-1.2, 0, 3.6], "range": ["#d6e9c8", "#f2f3f0", "#efb393"], "clamp": true, "interpolate": "rgb"}}
          }
        },
        {
          "data": {"name": "heads"},
          "transform": [{"filter": {"field": "c", "oneOf": ["Fitch", "Trepp", "SS", "Avg"]}}],
          "mark": {"type": "rule", "stroke": "#8fa8cc", "strokeWidth": 1},
          "encoding": {
            "x": {"field": "c", "type": "nominal", "bandPosition": 0, "axis": null},
            "y": {"datum": "Header", "type": "nominal", "bandPosition": 0, "axis": null},
            "y2": {"datum": "Overall", "bandPosition": 1}
          }
        },
        {
          "data": {"name": "heads"},
          "transform": [{"filter": {"field": "c", "oneOf": ["FitchYY", "TreppYY", "SSYY"]}}],
          "mark": {"type": "rule", "stroke": "#b3c3da", "strokeWidth": 0.8},
          "encoding": {
            "x": {"field": "c", "type": "nominal", "bandPosition": 0, "axis": null},
            "y": {"datum": "Header", "type": "nominal", "bandPosition": 0, "axis": null},
            "y2": {"datum": "Header", "bandPosition": 1}
          }
        },
        {
          "data": {"values": [{"r": "Header"}, {"r": "Office"}]},
          "mark": {"type": "rule", "stroke": "#7f9cc6", "strokeWidth": 1},
          "encoding": {
            "x": {"datum": "S1", "type": "nominal", "bandPosition": 0, "axis": null},
            "x2": {"datum": "Avg", "bandPosition": 1},
            "y": {"field": "r", "type": "nominal", "bandPosition": 0, "axis": null}
          }
        },
        {
          "data": {"values": [{}]},
          "mark": {"type": "rule", "stroke": "#2d3f70", "strokeWidth": 3.2},
          "encoding": {
            "x": {"datum": "S1", "type": "nominal", "bandPosition": 0, "axis": null},
            "x2": {"datum": "Avg", "bandPosition": 1},
            "y": {"datum": "Overall", "type": "nominal", "bandPosition": 0, "axis": null}
          }
        },
        {
          "data": {"values": [{}]},
          "mark": {"type": "rule", "stroke": "#eef2f8", "strokeWidth": 1},
          "encoding": {
            "x": {"datum": "S1", "type": "nominal", "bandPosition": 0, "axis": null},
            "x2": {"datum": "Avg", "bandPosition": 1},
            "y": {"datum": "Overall", "type": "nominal", "bandPosition": 0, "axis": null}
          }
        },
        {
          "data": {"values": [{"t": "CMBS Delinquency Rates - December 2023"}]},
          "mark": {"type": "text", "font": "Lato", "fontWeight": "bold", "fontSize": 12.5, "color": "#1c2b5a"},
          "encoding": {
            "x": {"datum": "Trepp", "type": "nominal", "axis": null},
            "y": {"datum": "T2", "type": "nominal", "bandPosition": 0, "axis": null},
            "text": {"field": "t"}
          }
        },
        {
          "data": {"values": [{"t": "Sector"}]},
          "mark": {"type": "text", "font": "Roboto", "fontWeight": "bold", "fontStyle": "italic", "fontSize": 7.5, "color": "#1c2b5a"},
          "encoding": {
            "x": {"datum": "S2", "type": "nominal", "bandPosition": 0, "axis": null},
            "y": {"datum": "Header", "type": "nominal", "axis": null},
            "text": {"field": "t"}
          }
        },
        {
          "data": {"name": "heads"},
          "mark": {"type": "text", "font": "Roboto", "fontWeight": "bold", "fontStyle": "italic", "color": "#1c2b5a"},
          "encoding": {
            "x": {"field": "c", "type": "nominal", "axis": null},
            "y": {"datum": "Header", "type": "nominal", "axis": null},
            "text": {"field": "t"},
            "size": {
              "condition": [
                {"test": "indexof(['FitchYY','TreppYY','SSYY'], datum.c) >= 0", "value": 4.6},
                {"test": "datum.c === 'SS'", "value": 5.2},
                {"test": "datum.c === 'Avg'", "value": 6.3}
              ],
              "value": 7.5
            }
          }
        },
        {
          "data": {"name": "sectors"},
          "transform": [{"filter": "datum.r !== 'Overall'"}],
          "mark": {"type": "text", "font": "Roboto", "fontSize": 9, "color": "#1e1e1e"},
          "encoding": {
            "x": {"datum": "S2", "type": "nominal", "bandPosition": 0, "axis": null},
            "y": {"field": "r", "type": "nominal", "axis": null},
            "text": {"field": "r"}
          }
        },
        {
          "data": {"name": "sectors"},
          "transform": [{"filter": "datum.r === 'Overall'"}],
          "mark": {"type": "text", "font": "Roboto", "fontWeight": "bold", "fontSize": 10.5, "color": "#1c2b5a"},
          "encoding": {
            "x": {"datum": "S2", "type": "nominal", "bandPosition": 0, "axis": null},
            "y": {"field": "r", "type": "nominal", "axis": null},
            "text": {"field": "r"}
          }
        },
        {
          "data": {"name": "cells"},
          "transform": [{"filter": "datum.r !== 'Overall' && datum.c !== 'Avg'"}],
          "mark": {"type": "text", "font": "Roboto", "fontSize": 6.4, "color": "#3f3f3f"},
          "encoding": {
            "x": {"field": "c", "type": "nominal", "axis": null},
            "y": {"field": "r", "type": "nominal", "axis": null},
            "text": {"field": "t"}
          }
        },
        {
          "data": {"name": "cells"},
          "transform": [{"filter": "datum.r === 'Overall' || datum.c === 'Avg'"}],
          "mark": {"type": "text", "font": "Roboto", "fontWeight": "bold", "fontSize": 6.5, "color": "#1c2b5a"},
          "encoding": {
            "x": {"field": "c", "type": "nominal", "axis": null},
            "y": {"field": "r", "type": "nominal", "axis": null},
            "text": {"field": "t"}
          }
        }
      ],
      "resolve": {"scale": {"fill": "independent"}}
    }
  ],
  "resolve": {"scale": {"x": "independent", "y": "independent"}}
}
